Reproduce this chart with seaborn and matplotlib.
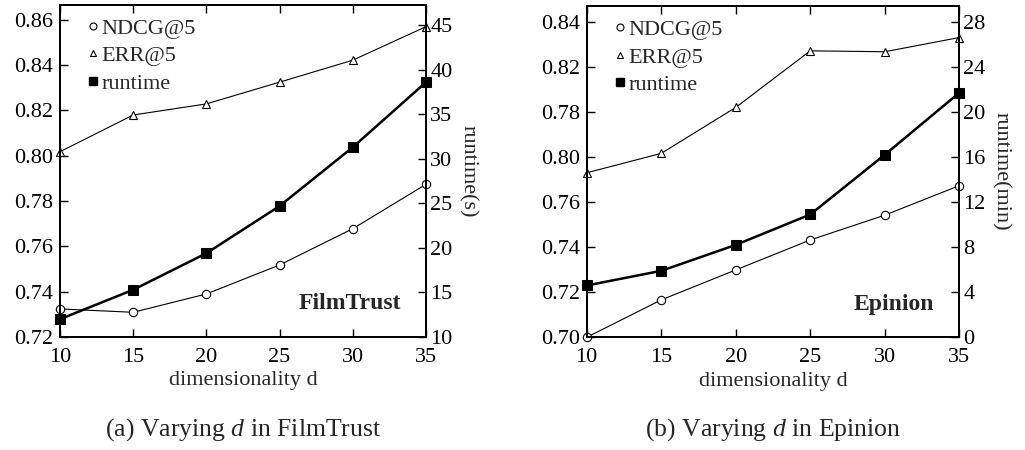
import matplotlib
matplotlib.use("Agg")
import matplotlib.pyplot as plt
from matplotlib.lines import Line2D
import seaborn as sns
import pandas as pd

# ---- data ----
dims = [10, 15, 20, 25, 30, 35]

ft_ndcg = [0.7324, 0.7309, 0.7390, 0.7518, 0.7678, 0.7874]
ft_err = [0.8018, 0.8180, 0.8229, 0.8325, 0.8422, 0.8570]
ft_runtime = [12.0, 15.3, 19.4, 24.7, 31.3, 38.6]

ep_ndcg = [0.7000, 0.7166, 0.7299, 0.7432, 0.7542, 0.7673]
ep_err = [0.7730, 0.7816, 0.8020, 0.8271, 0.8267, 0.8330]
ep_runtime = [4.6, 5.9, 8.2, 10.9, 16.2, 21.7]

ft_left_ticks = [0.72, 0.74, 0.76, 0.78, 0.80, 0.82, 0.84, 0.86]
ft_left_labels = ["0.72", "0.74", "0.76", "0.78", "0.80", "0.82", "0.84", "0.86"]
ft_right_ticks = [10, 15, 20, 25, 30, 35, 40, 45]
ep_left_ticks = [0.70, 0.72, 0.74, 0.76, 0.78, 0.80, 0.82, 0.84]
ep_left_labels = ["0.70", "0.72", "0.74", "0.76", "0.80", "0.78", "0.82", "0.84"]
ep_right_ticks = [0, 4, 8, 12, 16, 20, 24, 28]

sns.set_style("ticks")
plt.rcParams["font.family"] = ["Liberation Serif", "DejaVu Serif"]
plt.rcParams["mathtext.fontset"] = "custom"
plt.rcParams["mathtext.rm"] = "Liberation Serif"
plt.rcParams["mathtext.it"] = "Liberation Serif:italic"
FS = 16
CAP_FS = 18.5

fig = plt.figure(figsize=(10.25, 4.5), dpi=100)
ax_a = fig.add_axes([0.0585, 0.2511, 0.4156 - 0.0585, 0.9896 - 0.2511])
ax_b = fig.add_axes([0.5724, 0.2504, 0.9359 - 0.5724, 0.9867 - 0.2504])


def panel(ax, ndcg, err, runtime, ylim, yticks, ylabels, rlim, rticks,
          rlabel, name, caption):
    df = pd.DataFrame({"d": dims, "ndcg": ndcg, "err": err, "rt": runtime})
    sns.lineplot(data=df, x="d", y="ndcg", ax=ax, color="black", lw=0.8,
                 marker="o", markersize=6, markerfacecolor="white",
                 markeredgecolor="black", markeredgewidth=0.8, clip_on=False)
    sns.lineplot(data=df, x="d", y="err", ax=ax, color="black", lw=0.8,
                 marker="^", markersize=6, markerfacecolor="white",
                 markeredgecolor="black", markeredgewidth=0.8, clip_on=False)
    ax.set_xlim(10, 35)
    ax.set_ylim(*ylim)
    ax.set_xticks(dims)
    ax.set_yticks(yticks)
    ax.set_yticklabels(ylabels)
    ax.tick_params(axis="both", direction="in", length=6, width=1,
                   labelsize=FS, top=True, colors="black")
    ax.tick_params(axis="x", pad=8)
    ax.tick_params(axis="y", pad=5)
    ax.set_xlabel("dimensionality d", fontsize=FS, labelpad=3)
    ax.set_ylabel("")
    for s in ax.spines.values():
        s.set_linewidth(1.3)
        s.set_color("black")

    ax2 = ax.twinx()
    sns.lineplot(data=df, x="d", y="rt", ax=ax2, color="black", lw=1.8,
                 marker="s", markersize=7, markerfacecolor="black",
                 markeredgecolor="black", clip_on=False)
    ax2.set_ylim(*rlim)
    ax2.set_yticks(rticks)
    ax2.tick_params(axis="y", direction="in", length=6, width=1,
                    labelsize=FS, colors="black", pad=3)
    ax2.set_ylabel(rlabel, fontsize=FS, rotation=270, labelpad=18)
    ax2.set_xlabel("")
    for s in ax2.spines.values():
        s.set_linewidth(1.3)
        s.set_color("black")

    handles = [
        Line2D([], [], ls="none", marker="o", markersize=5, color="black",
               markerfacecolor="white", markeredgewidth=0.8),
        Line2D([], [], ls="none", marker="^", markersize=5, color="black",
               markerfacecolor="white", markeredgewidth=0.8),
        Line2D([], [], ls="none", marker="s", markersize=6, color="black"),
    ]
    ax2.legend(handles, ["NDCG@5", "ERR@5", "runtime"], loc="upper left",
               frameon=False, fontsize=FS, handlelength=0.6,
               handletextpad=0.1, labelspacing=0.32,
               bbox_to_anchor=(0.035, 1.0), borderaxespad=0.2)
    ax.text(0.933, 0.1, name, transform=ax.transAxes, ha="right",
            va="center", fontsize=17, fontweight="bold")
    pos = ax.get_position()
    fig.text((pos.x0 + pos.x1) / 2, 0.045, caption, ha="center",
             va="center", fontsize=CAP_FS)


panel(ax_a, ft_ndcg, ft_err, ft_runtime, (0.72, 0.8667), ft_left_ticks,
      ft_left_labels, (10, 47.3), ft_right_ticks, "runtime(s)", "FilmTrust",
      r"(a) Varying $\mathit{d}$ in FilmTrust")
panel(ax_b, ep_ndcg, ep_err, ep_runtime, (0.70, 0.847), ep_left_ticks,
      ep_left_labels, (0, 29.4), ep_right_ticks, "runtime(min)", "Epinion",
      r"(b) Varying $\mathit{d}$ in Epinion")

fig.savefig("out.png", dpi=100)
